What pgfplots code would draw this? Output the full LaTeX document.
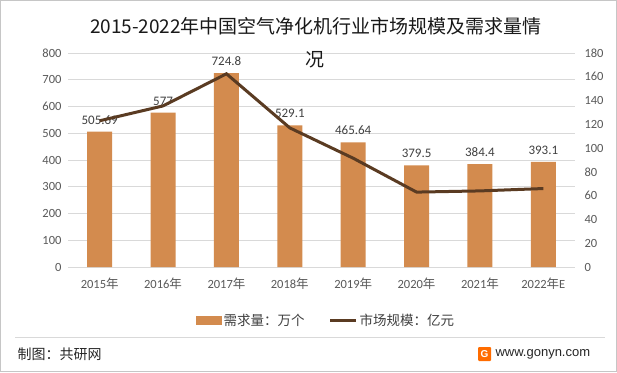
\documentclass[border=0pt]{standalone}
\usepackage{pgfplots}
\usepackage{pgfplotstable}
\pgfplotsset{compat=1.18}
\usepackage{fontspec}
\setmainfont{Carlito}
\newfontfamily\cjk{Noto Sans CJK SC}
\newfontfamily\arial{Liberation Sans}
\definecolor{barc}{HTML}{D38B4E}
\definecolor{linec}{HTML}{5A3B22}
\definecolor{gridc}{HTML}{D9D9D9}
\definecolor{tickc}{HTML}{595959}
\definecolor{labc}{HTML}{404040}
\newcommand{\nian}{{\cjk 年}}

\pgfplotstableread{
x y label
0 505.69 505.69
1 577 577
2 724.8 724.8
3 529.1 529.1
4 465.64 465.64
5 379.5 379.5
6 384.4 384.4
7 393.1 393.1
}\demand
\pgfplotstableread{
x y
0 123
1 135.5
2 162.5
3 117
4 91.5
5 63
6 64
7 66
}\market

\begin{document}
\begin{tikzpicture}[x=1bp,y=1bp]
\fill[white] (0,0) rectangle (617,372);
\draw[gray!45, line width=1bp] (0.5,0.5) rectangle (616.5,371.5);
\begin{axis}[
  at={(68bp,105bp)}, anchor=south west, scale only axis,
  width=507bp, height=214bp,
  xmin=-0.5, xmax=7.5, ymin=0, ymax=800,
  ytick={0,100,...,800}, xtick={0,...,7},
  xticklabels={{2015\nian},{2016\nian},{2017\nian},{2018\nian},{2019\nian},{2020\nian},{2021\nian},{2022\nian E}},
  ymajorgrids, grid style={gridc, line width=0.8bp},
  axis line style={draw=none}, major tick style={draw=none},
  /pgf/number format/assume math mode=true,
  tick label style={font=\fontsize{12.5bp}{14bp}\selectfont, text=tickc},
  xticklabel style={yshift=-7bp},
  yticklabel style={xshift=-3bp},
]
\addplot[ybar, bar width=25bp, fill=barc, draw=none,
  nodes near coords, point meta=explicit symbolic,
  nodes near coords style={font=\fontsize{13bp}{15bp}\selectfont, text=labc, anchor=south, yshift=4bp}]
  table[x=x,y=y,meta=label]{\demand};
\end{axis}
\begin{axis}[
  at={(68bp,105bp)}, anchor=south west, scale only axis,
  width=507bp, height=214bp,
  xmin=-0.5, xmax=7.5, ymin=0, ymax=180,
  ytick={0,20,...,180},
  axis y line*=right, hide x axis,
  axis line style={draw=none}, major tick style={draw=none},
  /pgf/number format/assume math mode=true,
  tick label style={font=\fontsize{12.5bp}{14bp}\selectfont, text=tickc},
  yticklabel style={xshift=6bp},
  legend style={at={(0.509,-0.248)}, anchor=center, draw=none, fill=none,
    legend columns=2, font=\cjk\fontsize{13.5bp}{15bp}\selectfont, text=labc,
    /tikz/every even column/.append style={column sep=22bp}},
]
\addlegendimage{legend image code/.code={\fill[barc] (0bp,-4bp) rectangle (25bp,4bp);}}
\addlegendentry{需求量：万个}
\addplot[linec, line width=3bp, mark=none,
  legend image code/.code={\draw[linec, line width=3bp] (0bp,0bp) -- (26bp,0bp);}]
  table[x=x,y=y]{\market};
\addlegendentry{市场规模：亿元}
\end{axis}
\node[font=\cjk\fontsize{19bp}{22bp}\selectfont, text=black!90] at (316,346) {2015-2022年中国空气净化机行业市场规模及需求量情};
\node[font=\cjk\fontsize{19bp}{22bp}\selectfont, text=black!90] at (315,312) {况};
\draw[gridc, line width=1bp] (15,35) -- (605,35);
\node[anchor=west, font=\cjk\fontsize{14bp}{16bp}\selectfont, text=black!85] at (14,18) {制图：共研网};
\fill[orange!85!red, rounded corners=1bp] (478,11) rectangle (491,25);
\node[font=\arial\bfseries\fontsize{10bp}{12bp}\selectfont, text=white] at (484.5,18) {G};
\node[anchor=west, font=\arial\fontsize{13bp}{15bp}\selectfont, text=black!85] at (492,18) {www.gonyn.com};
\end{tikzpicture}
\end{document}
